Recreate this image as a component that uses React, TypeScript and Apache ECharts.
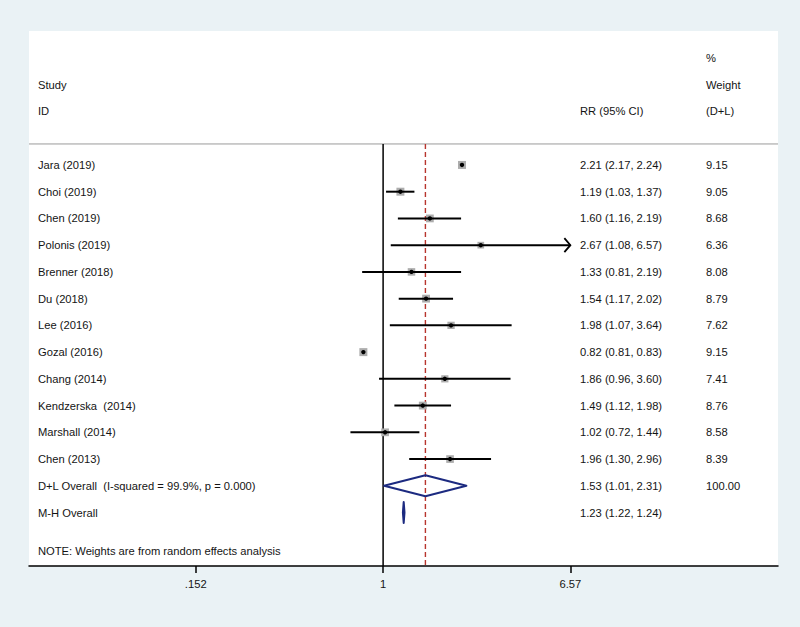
import React, { useEffect, useRef } from "react";
import * as echarts from "echarts";

// ---- data ----
const studies = [
  "Jara (2019)", "Choi (2019)", "Chen (2019)", "Polonis (2019)", "Brenner (2018)", "Du (2018)",
  "Lee (2016)", "Gozal (2016)", "Chang (2014)", "Kendzerska  (2014)", "Marshall (2014)", "Chen (2013)",
];
const rr = [2.21, 1.19, 1.60, 2.67, 1.33, 1.54, 1.98, 0.82, 1.86, 1.49, 1.02, 1.96];
const lo = [2.17, 1.03, 1.16, 1.08, 0.81, 1.17, 1.07, 0.81, 0.96, 1.12, 0.72, 1.30];
const hi = [2.24, 1.37, 2.19, 6.57, 2.19, 2.02, 3.64, 0.83, 3.60, 1.98, 1.44, 2.96];
const weights = [9.15, 9.05, 8.68, 6.36, 8.08, 8.79, 7.62, 9.15, 7.41, 8.76, 8.58, 8.39];

const overallLabels = ["D+L Overall  (I-squared = 99.9%, p = 0.000)", "M-H Overall"];
const overallRR = [1.53, 1.23];
const overallLo = [1.01, 1.22];
const overallHi = [2.31, 1.24];
const overallWeight = ["100.00", ""];

const noteText = "NOTE: Weights are from random effects analysis";
const tickValues = [0.152, 1, 6.57];
const tickLabels = [".152", "1", "6.57"];

// ---- layout / style ----
const FONT = "'Liberation Sans', Arial, Helvetica, sans-serif";
const FS = 11.2;
const TEXT_COLOR = "#141414";
const COL_STUDY = 38;
const COL_RR = 580;
const COL_W = 706;
const XMIN = -3.56;
const XMAX = 3.97;
const YMIN = -5.01;
const YMAX = 15.0;
const HEADER_LINE_ROW = -0.785;
const NOTE_ROW = 14.45;
const NAVY = "#1c2a80";
const DASH_RED = "#b8352e";

const fmt = (v: number) => v.toFixed(2);

export default function App() {
  const ref = useRef<HTMLDivElement>(null);

  useEffect(() => {
    if (!ref.current) return;
    const chart = echarts.init(ref.current, undefined, { renderer: "svg" });

    const nStudy = studies.length;
    const lnTicks = tickValues.map((v) => Math.log(v));

    // text items: [pixel column, row, text]
    const texts: { col: number; row: number; text: string }[] = [];
    texts.push({ col: COL_W, row: -4, text: "%" });
    texts.push({ col: COL_STUDY, row: -3, text: "Study" });
    texts.push({ col: COL_W, row: -3, text: "Weight" });
    texts.push({ col: COL_STUDY, row: -2, text: "ID" });
    texts.push({ col: COL_RR, row: -2, text: "RR (95% CI)" });
    texts.push({ col: COL_W, row: -2, text: "(D+L)" });
    studies.forEach((s, i) => {
      texts.push({ col: COL_STUDY, row: i, text: s });
      texts.push({ col: COL_RR, row: i, text: `${fmt(rr[i])} (${fmt(lo[i])}, ${fmt(hi[i])})` });
      texts.push({ col: COL_W, row: i, text: fmt(weights[i]) });
    });
    overallLabels.forEach((s, j) => {
      const row = nStudy + j;
      texts.push({ col: COL_STUDY, row, text: s });
      texts.push({ col: COL_RR, row, text: `${fmt(overallRR[j])} (${fmt(overallLo[j])}, ${fmt(overallHi[j])})` });
      if (overallWeight[j]) texts.push({ col: COL_W, row, text: overallWeight[j] });
    });
    texts.push({ col: COL_STUDY, row: NOTE_ROW, text: noteText });

    const maxW = Math.max(...weights);
    const axisMaxTick = Math.log(tickValues[tickValues.length - 1]);

    const option: any = {
      animation: false,
      backgroundColor: "#eaf2f5",
      grid: {
        left: 29, right: 22, top: 31, bottom: 61,
        show: true, backgroundColor: "#ffffff", borderWidth: 0,
      },
      xAxis: {
        type: "value",
        min: XMIN,
        max: XMAX,
        splitLine: { show: false },
        axisLine: { show: true, onZero: false, lineStyle: { color: "#000", width: 1.5 } },
        axisTick: { show: true, customValues: lnTicks, length: 7, lineStyle: { color: "#000", width: 1.5 } },
        axisLabel: {
          show: true,
          customValues: lnTicks,
          margin: 12,
          color: TEXT_COLOR,
          fontSize: FS,
          fontFamily: FONT,
          formatter: (v: number) => {
            const k = lnTicks.findIndex((t) => Math.abs(t - v) < 1e-6);
            return k >= 0 ? tickLabels[k] : "";
          },
        },
      },
      yAxis: {
        type: "value",
        inverse: true,
        min: YMIN,
        max: YMAX,
        show: false,
      },
      series: [
        // reference lines and header separator
        {
          type: "custom",
          clip: false,
          data: [[0, 0]],
          renderItem: (params: any, api: any) => {
            const cs = params.coordSys;
            const yTop = api.coord([0, HEADER_LINE_ROW])[1];
            const yBot = cs.y + cs.height;
            const x1 = api.coord([0, 0])[0];
            const xd = api.coord([Math.log(overallRR[0]), 0])[0];
            return {
              type: "group",
              children: [
                { type: "line", shape: { x1: cs.x, y1: yTop, x2: cs.x + cs.width, y2: yTop }, style: { stroke: "#9a9a9a", lineWidth: 1 } },
                { type: "line", shape: { x1, y1: yTop, x2: x1, y2: yBot }, style: { stroke: "#000", lineWidth: 1.5 } },
                { type: "line", shape: { x1: xd, y1: yTop, x2: xd, y2: yBot }, style: { stroke: DASH_RED, lineWidth: 1.4, lineDash: [5, 3] } },
              ],
            };
          },
        },
        // studies
        {
          type: "custom",
          clip: false,
          data: studies.map((_, i) => [Math.log(rr[i]), i, Math.log(lo[i]), Math.log(hi[i]), weights[i]]),
          encode: { x: [0, 2, 3], y: 1 },
          renderItem: (params: any, api: any) => {
            const x = api.value(0), row = api.value(1), l = api.value(2), h = api.value(3), w = api.value(4);
            const [px, py] = api.coord([x, row]);
            const pl = api.coord([l, row])[0];
            const ph = api.coord([h, row])[0];
            const size = 8 * Math.sqrt(w / maxW);
            const children: any[] = [
              { type: "rect", shape: { x: px - size / 2, y: py - size / 2, width: size, height: size }, style: { fill: "#adadad" } },
              { type: "line", shape: { x1: pl, y1: py, x2: ph, y2: py }, style: { stroke: "#000", lineWidth: 2 } },
            ];
            if (h >= axisMaxTick - 1e-9) {
              children.push({
                type: "polyline",
                shape: { points: [[ph - 6, py - 7], [ph, py], [ph - 6, py + 7]] },
                style: { stroke: "#000", lineWidth: 1.8, fill: "none" },
              });
            }
            children.push({ type: "circle", shape: { cx: px, cy: py, r: 2.2 }, style: { fill: "#000" } });
            return { type: "group", children };
          },
        },
        // overall diamonds
        {
          type: "custom",
          clip: false,
          data: overallRR.map((v, j) => [Math.log(v), nStudy + j, Math.log(overallLo[j]), Math.log(overallHi[j])]),
          encode: { x: [0, 2, 3], y: 1 },
          renderItem: (params: any, api: any) => {
            const x = api.value(0), row = api.value(1), l = api.value(2), h = api.value(3);
            const [px, py] = api.coord([x, row]);
            const pl = api.coord([l, row])[0];
            const ph = api.coord([h, row])[0];
            const hh = 10.5;
            return {
              type: "polygon",
              shape: { points: [[pl, py], [px, py - hh], [ph, py], [px, py + hh]] },
              style: { stroke: NAVY, lineWidth: 2, fill: "none", lineJoin: "round" },
            };
          },
        },
        // texts
        {
          type: "custom",
          clip: false,
          data: texts.map((t) => [0, t.row]),
          renderItem: (params: any, api: any) => {
            const t = texts[params.dataIndex];
            const py = api.coord([0, api.value(1)])[1];
            return {
              type: "text",
              x: t.col,
              y: py,
              style: {
                text: t.text,
                fill: TEXT_COLOR,
                fontSize: FS,
                fontFamily: FONT,
                align: "left",
                verticalAlign: "middle",
              },
            };
          },
        },
      ],
    };

    chart.setOption(option);
    return () => chart.dispose();
  }, []);

  return (
    <div
      ref={ref}
      style={{ position: "fixed", left: 0, top: 0, width: 800, height: 627, background: "#eaf2f5" }}
    />
  );
}
